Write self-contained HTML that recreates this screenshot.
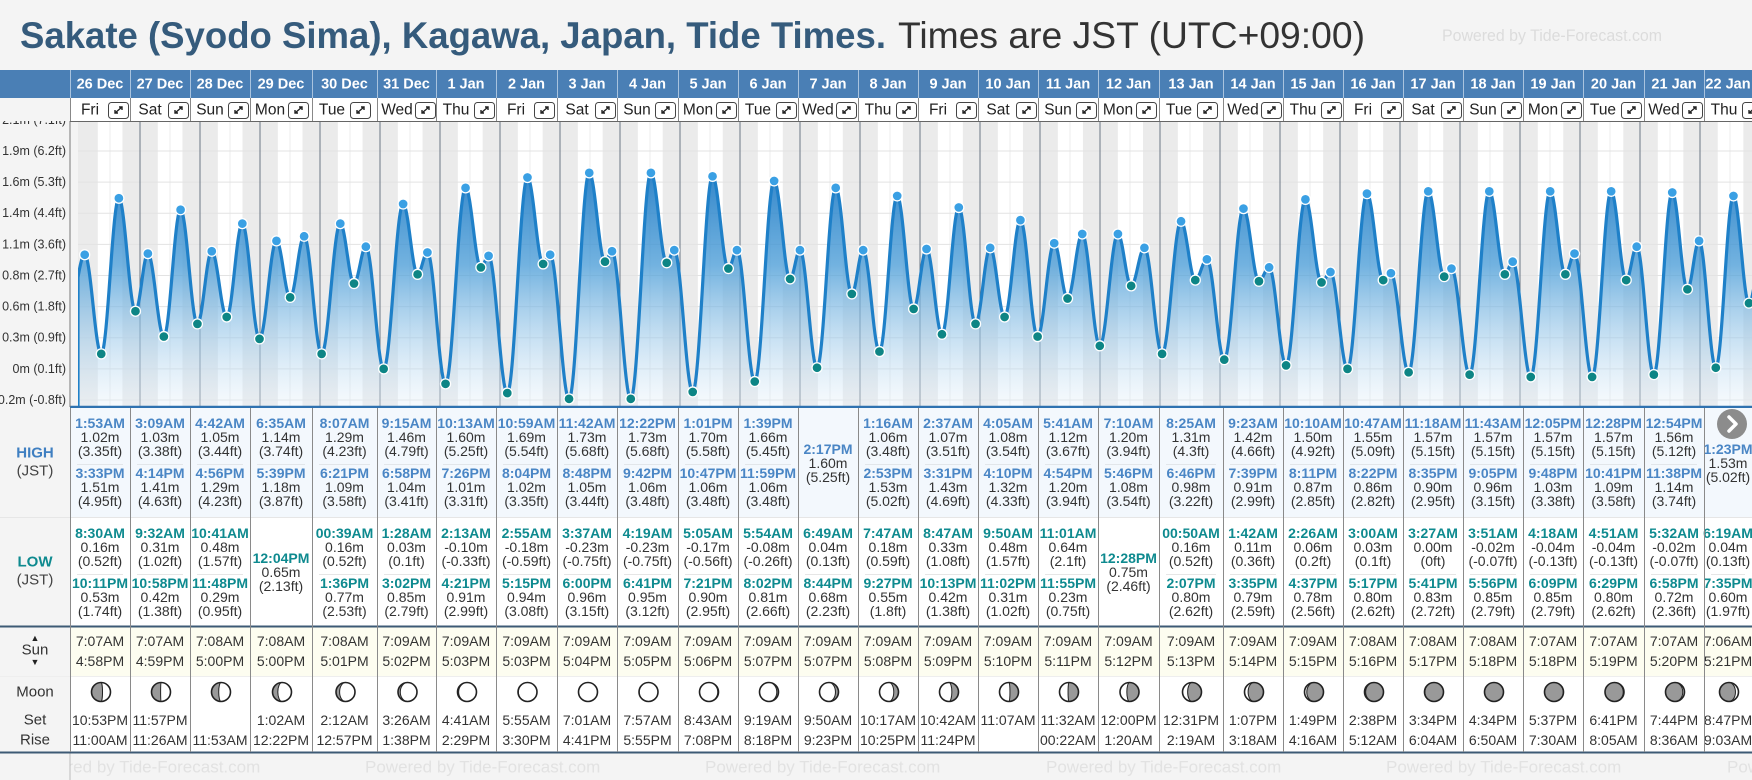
<!DOCTYPE html>
<html><head><meta charset="utf-8">
<style>
html,body{margin:0;padding:0;background:#f4f4f4;}
body{width:1752px;height:780px;overflow:hidden;position:relative;font-family:"Liberation Sans","DejaVu Sans",sans-serif;}
svg{position:absolute;left:0;top:0;}
</style></head>
<body>
<svg id="page" width="1752" height="780" viewBox="0 0 1752 780">
  <defs>
    <linearGradient id="tideFill" gradientUnits="userSpaceOnUse" x1="0" y1="150" x2="0" y2="406">
      <stop offset="0" stop-color="#1a76c2" stop-opacity="0.97"/>
      <stop offset="0.45" stop-color="#4f9fd8" stop-opacity="0.8"/>
      <stop offset="1" stop-color="#e6f1fa" stop-opacity="0.35"/>
    </linearGradient>
    <clipPath id="plotClip"><rect x="78" y="121" width="1674" height="286"/></clipPath>
  </defs>
  <rect x="0" y="0" width="1752" height="780" fill="#f4f4f4"/>
  <text x="20" y="48" font-size="37" font-weight="bold" fill="#355b7c" textLength="866" lengthAdjust="spacingAndGlyphs">Sakate (Syodo Sima), Kagawa, Japan, Tide Times.</text>
  <text x="898" y="48" font-size="37" fill="#333" textLength="467" lengthAdjust="spacingAndGlyphs">Times are JST (UTC+09:00)</text>
  <text x="1442" y="41" font-size="17" fill="#dcdcdc" textLength="220" lengthAdjust="spacingAndGlyphs">Powered by Tide-Forecast.com</text>
  <g id="plot"></g>
  <g id="tables"></g>
  <g id="header"></g>
</svg>
<script>
// ---------- data ----------
const dates = ["26 Dec","27 Dec","28 Dec","29 Dec","30 Dec","31 Dec","1 Jan","2 Jan","3 Jan","4 Jan","5 Jan","6 Jan","7 Jan","8 Jan","9 Jan","10 Jan","11 Jan","12 Jan","13 Jan","14 Jan","15 Jan","16 Jan","17 Jan","18 Jan","19 Jan","20 Jan","21 Jan","22 Jan"];
const weekdays = ["Fri","Sat","Sun","Mon","Tue","Wed","Thu","Fri","Sat","Sun","Mon","Tue","Wed","Thu","Fri","Sat","Sun","Mon","Tue","Wed","Thu","Fri","Sat","Sun","Mon","Tue","Wed","Thu"];
const highTimes = [["1:53AM","3:33PM"],["3:09AM","4:14PM"],["4:42AM","4:56PM"],["6:35AM","5:39PM"],["8:07AM","6:21PM"],["9:15AM","6:58PM"],["10:13AM","7:26PM"],["10:59AM","8:04PM"],["11:42AM","8:48PM"],["12:22PM","9:42PM"],["1:01PM","10:47PM"],["1:39PM","11:59PM"],["2:17PM"],["1:16AM","2:53PM"],["2:37AM","3:31PM"],["4:05AM","4:10PM"],["5:41AM","4:54PM"],["7:10AM","5:46PM"],["8:25AM","6:46PM"],["9:23AM","7:39PM"],["10:10AM","8:11PM"],["10:47AM","8:22PM"],["11:18AM","8:35PM"],["11:43AM","9:05PM"],["12:05PM","9:48PM"],["12:28PM","10:41PM"],["12:54PM","11:38PM"],["1:23PM"]];
const highHeights = [[1.02,1.51],[1.03,1.41],[1.05,1.29],[1.14,1.18],[1.29,1.09],[1.46,1.04],[1.60,1.01],[1.69,1.02],[1.73,1.05],[1.73,1.06],[1.70,1.06],[1.66,1.06],[1.60],[1.06,1.53],[1.07,1.43],[1.08,1.32],[1.12,1.20],[1.20,1.08],[1.31,0.98],[1.42,0.91],[1.50,0.87],[1.55,0.86],[1.57,0.90],[1.57,0.96],[1.57,1.03],[1.57,1.09],[1.56,1.14],[1.53]];
const lowTimes = [["8:30AM","10:11PM"],["9:32AM","10:58PM"],["10:41AM","11:48PM"],["12:04PM"],["00:39AM","1:36PM"],["1:28AM","3:02PM"],["2:13AM","4:21PM"],["2:55AM","5:15PM"],["3:37AM","6:00PM"],["4:19AM","6:41PM"],["5:05AM","7:21PM"],["5:54AM","8:02PM"],["6:49AM","8:44PM"],["7:47AM","9:27PM"],["8:47AM","10:13PM"],["9:50AM","11:02PM"],["11:01AM","11:55PM"],["12:28PM"],["00:50AM","2:07PM"],["1:42AM","3:35PM"],["2:26AM","4:37PM"],["3:00AM","5:17PM"],["3:27AM","5:41PM"],["3:51AM","5:56PM"],["4:18AM","6:09PM"],["4:51AM","6:29PM"],["5:32AM","6:58PM"],["6:19AM","7:35PM"]];
const lowHeights = [[0.16,0.53],[0.31,0.42],[0.48,0.29],[0.65],[0.16,0.77],[0.03,0.85],[-0.10,0.91],[-0.18,0.94],[-0.23,0.96],[-0.23,0.95],[-0.17,0.90],[-0.08,0.81],[0.04,0.68],[0.18,0.55],[0.33,0.42],[0.48,0.31],[0.64,0.23],[0.75],[0.16,0.80],[0.11,0.79],[0.06,0.78],[0.03,0.80],[0.00,0.83],[-0.02,0.85],[-0.04,0.85],[-0.04,0.80],[-0.02,0.72],[0.04,0.60]];
// estimated extremes just outside the table (at edges)
const edgeEventHours = [-4.5, 27*24+25.8];
const edgeEventHeights = [0.50, 1.20];
const sunRise = ["7:07AM","7:07AM","7:08AM","7:08AM","7:08AM","7:09AM","7:09AM","7:09AM","7:09AM","7:09AM","7:09AM","7:09AM","7:09AM","7:09AM","7:09AM","7:09AM","7:09AM","7:09AM","7:09AM","7:09AM","7:09AM","7:08AM","7:08AM","7:08AM","7:07AM","7:07AM","7:07AM","7:06AM"];
const sunSet = ["4:58PM","4:59PM","5:00PM","5:00PM","5:01PM","5:02PM","5:03PM","5:03PM","5:04PM","5:05PM","5:06PM","5:07PM","5:07PM","5:08PM","5:09PM","5:10PM","5:11PM","5:12PM","5:13PM","5:14PM","5:15PM","5:16PM","5:17PM","5:18PM","5:18PM","5:19PM","5:20PM","5:21PM"];
const moonSet = ["10:53PM","11:57PM","","1:02AM","2:12AM","3:26AM","4:41AM","5:55AM","7:01AM","7:57AM","8:43AM","9:19AM","9:50AM","10:17AM","10:42AM","11:07AM","11:32AM","12:00PM","12:31PM","1:07PM","1:49PM","2:38PM","3:34PM","4:34PM","5:37PM","6:41PM","7:44PM","8:47PM"];
const moonRise = ["11:00AM","11:26AM","11:53AM","12:22PM","12:57PM","1:38PM","2:29PM","3:30PM","4:41PM","5:55PM","7:08PM","8:18PM","9:23PM","10:25PM","11:24PM","","00:22AM","1:20AM","2:19AM","3:18AM","4:16AM","5:12AM","6:04AM","6:50AM","7:30AM","8:05AM","8:36AM","9:03AM"];
const moonLit = [0.42,0.52,0.62,0.72,0.81,0.88,0.94,0.98,1.0,0.99,0.96,0.91,0.84,0.75,0.65,0.55,0.45,0.36,0.27,0.19,0.12,0.06,0.02,0.0,0.01,0.04,0.09,0.16];
const moonWaxing = [1,1,1,1,1,1,1,1,1,1,0,0,0,0,0,0,0,0,0,0,0,0,0,0,1,1,1,1];
const yTickValues = [-0.24,0.03,0.30,0.57,0.84,1.11,1.38,1.65,1.92,2.19];
const yTickLabels = ["-0.2m (-0.8ft)","0m (0.1ft)","0.3m (0.9ft)","0.6m (1.8ft)","0.8m (2.7ft)","1.1m (3.6ft)","1.4m (4.4ft)","1.6m (5.3ft)","1.9m (6.2ft)","2.1m (7.1ft)"];

// ---------- layout ----------
const colEdges = [70,130,190,250,312,377,436,496,557,617,678,738,798,858,918,978,1038,1098,1159,1223,1283,1343,1403,1463,1523,1583,1644,1704,1752];
const PLOT_L = 78, PLOT_T = 121, PLOT_B = 406;
const NS = 'http://www.w3.org/2000/svg';
function xScale(day, hour){ return 80 + day*60 + hour*2.5; }
function yScale(m){ return 400 - (m + 0.24)*115.3; }
function parseTime(s){
  const m = s.match(/(\d+):(\d+)(AM|PM)/);
  let h = parseInt(m[1],10) % 12;
  if (m[3] === 'PM') h += 12;
  return h + parseInt(m[2],10)/60;
}
function mk(tag, attrs, parent){
  const e = document.createElementNS(NS, tag);
  for (const k in attrs) e.setAttribute(k, attrs[k]);
  parent.appendChild(e);
  return e;
}
function txt(parent, str, x, y, attrs){
  const e = mk('text', Object.assign({x:x, y:y, 'text-anchor':'middle', 'dominant-baseline':'central'}, attrs || {}), parent);
  e.textContent = str;
  return e;
}
function ft(m){ return '(' + parseFloat((m*3.28084).toFixed(2)) + 'ft)'; }

const plot = document.getElementById('plot');
const tables = document.getElementById('tables');
const header = document.getElementById('header');

// ---------- plot background ----------
let bg = mk('rect', {x:PLOT_L, y:PLOT_T, width:1752-PLOT_L, height:PLOT_B-PLOT_T, fill:'#ebebeb'}, plot);


for (let d = 0; d < dates.length; d++){
  const x1 = xScale(d, parseTime(sunRise[d])), x2 = xScale(d, parseTime(sunSet[d]));
  const r = mk('rect', {x:x1, y:PLOT_T, width:x2-x1, height:PLOT_B-PLOT_T, fill:'#ffffff'}, plot);
  
  
  const g = mk('line', {x1:xScale(d,12), x2:xScale(d,12), y1:PLOT_T, y2:PLOT_B, stroke:'#ececec', 'stroke-width':1}, plot);
  
  
}
for (let i = 0; i < yTickValues.length; i++){
  const y = yScale(yTickValues[i]);
  const gl = mk('line', {x1:PLOT_L, x2:1752, y1:y, y2:y, stroke:'#e3e3e3', 'stroke-width':1}, plot);
  
  
  const tl = txt(plot, yTickLabels[i], 66, y, {'text-anchor':'end', 'font-size':'12.5', fill:'#333'});
  
  
}
for (let d = 1; d < dates.length; d++){
  const x = xScale(d, 0);
  const l = mk('line', {x1:x, x2:x, y1:PLOT_T, y2:PLOT_B, stroke:'#6b7785', 'stroke-width':1}, plot);
  
  
}

// ---------- tide curve ----------
const events = [];
for (let d = 0; d < dates.length; d++){
  highTimes[d].forEach((t,i) => events.push({t: d*24 + parseTime(t), m: highHeights[d][i], hi: true}));
  lowTimes[d].forEach((t,i) => events.push({t: d*24 + parseTime(t), m: lowHeights[d][i], hi: false}));
}
const allEv = events.concat(edgeEventHours.map((t,i) => ({t:t, m:edgeEventHeights[i], edge:true})));
allEv.sort((a,b) => a.t - b.t);
function tideAt(t){
  for (let i = 0; i < allEv.length-1; i++){
    const a = allEv[i], b = allEv[i+1];
    if (t >= a.t && t <= b.t){
      const u = (t - a.t)/(b.t - a.t);
      return a.m + (b.m - a.m)*(1 - Math.cos(Math.PI*u))/2;
    }
  }
  return allEv[allEv.length-1].m;
}
const tStart = (PLOT_L - 80)/2.5, tEnd = (1760 - 80)/2.5;
let pts = [];
for (let t = tStart; t <= tEnd; t += 0.2){
  pts.push([xScale(0,t), yScale(tideAt(t))]);
}
const clipG = mk('g', {'clip-path':'url(#plotClip)'}, plot);


let dPath = 'M' + PLOT_L + ',' + PLOT_B + ' ' + pts.map(p => 'L' + p[0].toFixed(1) + ',' + p[1].toFixed(1)).join(' ') + ' L1760,' + PLOT_B + ' Z';
const area = mk('path', {d:dPath, fill:'url(#tideFill)', stroke:'none'}, clipG);


let lPath = 'M' + PLOT_L + ',' + PLOT_B + ' ' + pts.map(p => 'L' + p[0].toFixed(1) + ',' + p[1].toFixed(1)).join(' ');
const line = mk('path', {d:lPath, fill:'none', stroke:'#1f80c8', 'stroke-width':3.2, 'stroke-linejoin':'round'}, clipG);


events.forEach(ev => {
  const c = mk('circle', {cx:xScale(0,ev.t), cy:yScale(ev.m), r:5, fill: ev.hi ? '#3aa0e4' : '#0d8585', stroke:'#fff', 'stroke-width':1.3}, clipG);
  
  
});
const axisB = mk('line', {x1:PLOT_L-8, x2:1752, y1:407, y2:407, stroke:'#2f72b0', 'stroke-width':2.5}, plot);


const axisL = mk('line', {x1:70, x2:70, y1:121, y2:407, stroke:'#777', 'stroke-width':1}, plot);



// ---------- tables ----------
function sec(y, h, fill, name){
  const r = mk('rect', {x:70, y:y, width:1682, height:h, fill:fill}, tables);
  
  
}
sec(408, 109, '#f3f8fd', 'high-tide-section');
sec(517, 109, '#ffffff', 'low-tide-section');
sec(627, 49, '#fdfdf0', 'sun-section');
sec(676, 76, '#ffffff', 'moon-section');
const footBg = mk('rect', {x:0, y:753, width:1752, height:27, fill:'#f4f4f4'}, tables);


[25,365,705,1046,1386,1727].forEach(x => {
  const f = txt(tables, 'Powered by Tide-Forecast.com', x, 767, {'text-anchor':'start', 'font-size':'17', fill:'#e2e2e2'});
  
  
});
const footCover = mk('rect', {x:0, y:753, width:70, height:27, fill:'#f4f4f4'}, tables);


const footLine = mk('line', {x1:70, x2:70, y1:753, y2:780, stroke:'#bbb'}, tables);



function hl(y, col, w, name){
  const l = mk('line', {x1:0, x2:1752, y1:y, y2:y, stroke:col, 'stroke-width':w}, tables);
  
  
}
hl(517.5, '#e6e6e6', 1, 'high-low-divider');
hl(626.5, '#3d5a75', 2, 'sun-top-border');
hl(676.5, '#eeeeee', 1, 'moon-top-border');
hl(752.5, '#3d5a75', 2, 'table-bottom-border');

// left labels
[['HIGH',453,'#3f7fc1','high-label',true],['(JST)',471,'#444','high-tz-label',false],['LOW',562,'#0e8a8f','low-label',true],['(JST)',580,'#444','low-tz-label',false],['▲',638,'#222','sun-up-arrow',false],['Sun',650,'#333','sun-label',false],['▼',662,'#222','sun-down-arrow',false],['Moon',692,'#333','moon-label',false],['Set',720,'#333','moonset-label',false],['Rise',740,'#333','moonrise-label',false]].forEach(a => {
  const t = txt(tables, a[0], 35, a[1], {'font-size': a[0].length===1 ? '9' : '15', 'font-weight': a[4] ? 'bold' : 'normal', fill:a[2]});
  
  
});

function group(cx, yTop, time, m, color, kind){
  const a = txt(tables, time, cx, yTop, {'font-size':'14', 'font-weight':'bold', fill:color});
  
  
  const b = txt(tables, m.toFixed(2) + 'm', cx, yTop+14, {'font-size':'14', fill:'#333'});
  
  
  const c = txt(tables, ft(m), cx, yTop+28, {'font-size':'14', fill:'#333'});
  
  
}
for (let d = 0; d < dates.length; d++){
  const L = colEdges[d], R = colEdges[d+1], cx = (L+R)/2;
  if (highTimes[d].length === 2){
    group(cx, 423, highTimes[d][0], highHeights[d][0], '#4a86c5', 'high-tide');
    group(cx, 473, highTimes[d][1], highHeights[d][1], '#4a86c5', 'high-tide');
    const s = mk('line', {x1:L+7, x2:R-7, y1:464.5, y2:464.5, stroke:'#e2e6ea'}, tables);
    
    
  } else {
    group(cx, 449, highTimes[d][0], highHeights[d][0], '#4a86c5', 'high-tide');
  }
  if (lowTimes[d].length === 2){
    group(cx, 533, lowTimes[d][0], lowHeights[d][0], '#0e8a8f', 'low-tide');
    group(cx, 583, lowTimes[d][1], lowHeights[d][1], '#0e8a8f', 'low-tide');
    const s = mk('line', {x1:L+7, x2:R-7, y1:574.5, y2:574.5, stroke:'#e6e6e6'}, tables);
    
    
  } else {
    group(cx, 558, lowTimes[d][0], lowHeights[d][0], '#0e8a8f', 'low-tide');
  }
  const sr = txt(tables, sunRise[d], cx, 641, {'font-size':'14', fill:'#333'});
  
  
  const ss = txt(tables, sunSet[d], cx, 661, {'font-size':'14', fill:'#333'});
  
  
  if (moonSet[d]){
    const ms = txt(tables, moonSet[d], cx, 720, {'font-size':'14', fill:'#333'});
    
    
  }
  if (moonRise[d]){
    const mr = txt(tables, moonRise[d], cx, 740, {'font-size':'14', fill:'#333'});
    
    
  }
  const mg = mk('g', {transform:'translate(' + (cx+1) + ',692)'}, tables);
  
  
  mk('circle', {cx:0, cy:0, r:9.5, fill:'#999'}, mg);
  const f = moonLit[d], r = 9.5, rx = r*Math.abs(1-2*f), s = f < 0.5 ? 0 : 1;
  if (f > 0.005){
    mk('path', {d:'M0,' + (-r) + ' A' + r + ' ' + r + ' 0 0 1 0,' + r + ' A' + rx.toFixed(2) + ' ' + r + ' 0 0 ' + s + ' 0,' + (-r) + ' Z', fill:'#fff', stroke:'#222', 'stroke-width':1, transform: moonWaxing[d] ? '' : 'scale(-1,1)'}, mg);
  }
  mk('circle', {cx:0, cy:0, r:9.5, fill:'none', stroke:'#222', 'stroke-width':1.6}, mg);
}
for (let i = 0; i < colEdges.length-1; i++){
  const x = colEdges[i] + 0.5;
  const v = mk('line', {x1:x, x2:x, y1:408, y2:752, stroke:'#8a8a8a', 'stroke-width':1}, tables);
  
  
}
const nb = mk('g', {transform:'translate(1732,424)'}, tables);


mk('circle', {cx:0, cy:0, r:15, fill:'#8c8c8c'}, nb);
mk('path', {d:'M-3,-7 L4,0 L-3,7', fill:'none', stroke:'#fff', 'stroke-width':3.5, 'stroke-linecap':'round', 'stroke-linejoin':'round'}, nb);

// ---------- header ----------
const hb = mk('rect', {x:0, y:70, width:1752, height:28, fill:'#4a7fb5'}, header);


const lc = mk('rect', {x:0, y:98, width:70, height:23, fill:'#f4f4f4'}, header);


const dr = mk('rect', {x:70, y:98, width:1682, height:23, fill:'#ffffff'}, header);


const drl = mk('line', {x1:70, x2:1752, y1:121.5, y2:121.5, stroke:'#666'}, header);


for (let d = 0; d < dates.length; d++){
  const L = colEdges[d], R = colEdges[d+1];
  const dt = txt(header, dates[d], (L+R)/2, 84.5, {'font-size':'14.5', 'font-weight':'bold', fill:'#fff'});
  
  
  const sep = mk('line', {x1:L+0.5, x2:L+0.5, y1:70, y2:98, stroke:'#a9c3de'}, header);
  
  
  const sep2 = mk('line', {x1:L+0.5, x2:L+0.5, y1:98, y2:121, stroke:'#888'}, header);
  
  
  const ix = L + 38;
  const wd = txt(header, weekdays[d], (L + ix)/2 + 1, 110, {'font-size':'15.5', fill:'#222'});
  
  
  const eb = mk('g', {transform:'translate(' + ix + ',102)'}, header);
  
  
  mk('rect', {x:0.5, y:0.5, width:20, height:16, rx:3, fill:'#fff', stroke:'#444', 'stroke-width':1}, eb);
  mk('path', {d:'M7,11 L14,5 M11,5 L14,5 L14,8 M7,8 L7,11 L10,11', fill:'none', stroke:'#222', 'stroke-width':1.4}, eb);
}
</script>
</body></html>
